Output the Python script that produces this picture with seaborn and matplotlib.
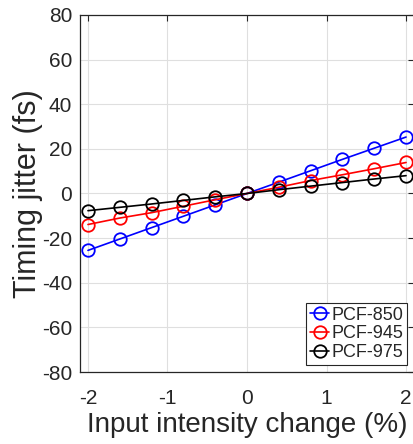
#!/usr/bin/env python3
import pandas as pd
import seaborn as sns
import matplotlib
matplotlib.use("Agg")
import matplotlib.pyplot as plt

intensity_change = [-2.0, -1.6, -1.2, -0.8, -0.4, 0.0, 0.4, 0.8, 1.2, 1.6, 2.0]
jitter_850 = [-25.5, -20.4, -15.3, -10.2, -5.1, 0.0, 5.1, 10.2, 15.3, 20.3, 25.3]
jitter_945 = [-13.9, -11.0, -8.6, -5.7, -2.8, 0.0, 2.8, 5.8, 8.4, 11.1, 13.9]
jitter_975 = [-7.7, -6.2, -4.7, -3.1, -1.5, 0.0, 1.7, 3.3, 4.9, 6.5, 8.0]
series_names = ["PCF-850", "PCF-945", "PCF-975"]
series_colors = ["#0000ff", "#ff0000", "#000000"]

rows = []
for name, vals in zip(series_names, [jitter_850, jitter_945, jitter_975]):
    for x, y in zip(intensity_change, vals):
        rows.append({"x": x, "y": y, "fiber": name})
df = pd.DataFrame(rows)

sns.set_style("whitegrid")
plt.rcParams["font.family"] = ["Liberation Sans", "DejaVu Sans"]
plt.rcParams["axes.unicode_minus"] = False

fig = plt.figure(figsize=(4.14, 4.44), dpi=100)
ax = fig.add_axes([80 / 414, 72 / 444, 334 / 414, 357 / 444])

sns.lineplot(
    data=df, x="x", y="y", hue="fiber", hue_order=series_names,
    palette=series_colors, marker="o", markersize=9,
    markerfacecolor="none", markeredgewidth=1.3, linewidth=1.2,
    ax=ax, legend=False,
)
# seaborn sets marker edge color from hue; make the circles match the lines
for line, c, name in zip(ax.get_lines(), series_colors, series_names):
    line.set_markeredgecolor(c)
    line.set_markerfacecolor("none")
    line.set_label(name)

ax.set_xlim(-2.1, 2.1)
ax.set_ylim(-80, 80)
ax.set_xticks([-2, -1, 0, 1, 2])
ax.set_yticks(range(-80, 81, 20))
ax.grid(True, color="#dfdfdf", linewidth=0.8)
ax.tick_params(direction="in", top=True, right=True, length=4,
               labelsize=15, colors="#262626", width=0.8)
ax.tick_params(axis="x", pad=12)
ax.tick_params(axis="y", pad=5.5)
for s in ax.spines.values():
    s.set_color("#262626")
    s.set_linewidth(0.9)

ax.set_xlabel("Input intensity change (%)", fontsize=20, color="#262626", labelpad=3)
ax.set_ylabel("Timing jitter (fs)", fontsize=22, color="#262626", labelpad=-1)

leg = ax.legend(loc="lower right", fontsize=13, handlelength=1.1,
                handletextpad=0.1, borderpad=0.2, labelspacing=0.1,
                borderaxespad=0.4, fancybox=False, framealpha=1)
leg.get_frame().set_edgecolor("#262626")
leg.get_frame().set_linewidth(0.8)

fig.savefig("out.png", dpi=100)
